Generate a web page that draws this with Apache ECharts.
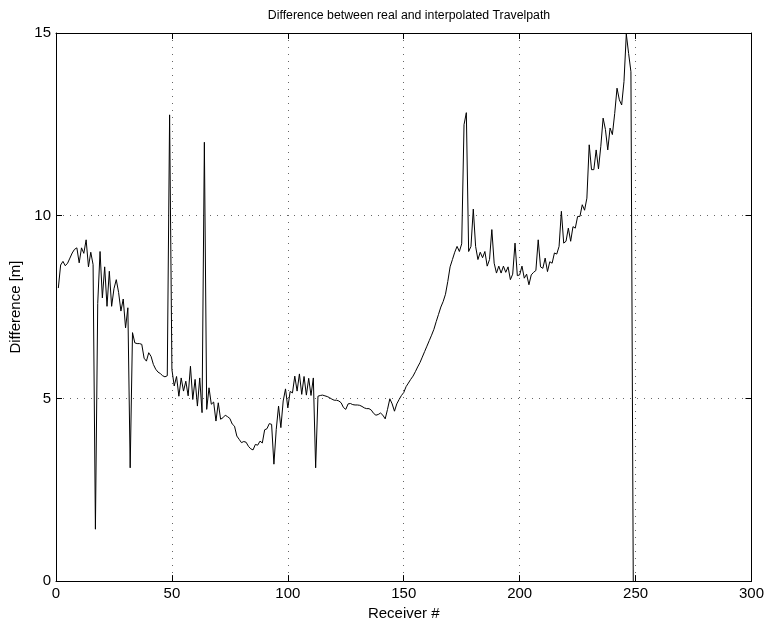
<!DOCTYPE html>
<html>
<head>
<meta charset="utf-8">
<script src="https://cdn.jsdelivr.net/npm/echarts@6/dist/echarts.min.js"></script>
<style>
  html, body { margin: 0; padding: 0; background: #fff; }
  #chart { width: 767px; height: 626px; }
</style>
</head>
<body>
<div id="chart"></div>
<script>
// Receiver numbers 1..249 and the travel-path difference for each receiver [m]
const receivers = [];
for (let i = 1; i <= 249; i++) receivers.push(i);

const difference = [
  // 1-10
  8.02, 8.65, 8.75, 8.63, 8.70, 8.84, 8.98, 9.08, 9.12, 8.71,
  // 11-20
  9.12, 8.97, 9.34, 8.60, 9.00, 8.66, 1.42, 7.60, 9.02, 7.75,
  // 21-30
  8.60, 7.52, 8.48, 7.52, 8.00, 8.25, 7.90, 7.39, 7.72, 6.93,
  // 31-40
  7.48, 3.10, 6.80, 6.52, 6.50, 6.50, 6.48, 6.10, 6.02, 6.25,
  // 41-50
  6.15, 5.93, 5.80, 5.72, 5.68, 5.62, 5.59, 5.62, 12.76, 5.79,
  // 51-60
  5.34, 5.60, 5.06, 5.56, 5.20, 5.47, 5.07, 5.88, 4.97, 5.52,
  // 61-70
  4.79, 5.56, 4.61, 12.01, 4.70, 5.29, 4.84, 4.90, 4.38, 4.88,
  // 71-80
  4.43, 4.47, 4.54, 4.50, 4.45, 4.30, 4.24, 3.97, 3.88, 3.79,
  // 81-90
  3.82, 3.80, 3.69, 3.62, 3.59, 3.74, 3.72, 3.83, 3.78, 4.14,
  // 91-100
  4.17, 4.31, 4.29, 3.20, 4.15, 4.79, 4.20, 4.93, 5.26, 4.74,
  // 101-110
  5.19, 5.15, 5.61, 5.20, 5.67, 5.11, 5.60, 5.09, 5.55, 5.08,
  // 111-120
  5.56, 3.10, 5.06, 5.08, 5.09, 5.07, 5.05, 5.02, 4.98, 4.95,
  // 121-130
  4.95, 4.93, 4.88, 4.75, 4.70, 4.85, 4.86, 4.83, 4.82, 4.82,
  // 131-140
  4.81, 4.78, 4.74, 4.72, 4.72, 4.68, 4.59, 4.54, 4.56, 4.60,
  // 141-150
  4.54, 4.44, 4.70, 4.99, 4.85, 4.65, 4.85, 4.97, 5.08, 5.16,
  // 151-160
  5.32, 5.42, 5.52, 5.61, 5.73, 5.86, 5.98, 6.13, 6.28, 6.43,
  // 161-170
  6.58, 6.73, 6.89, 7.10, 7.30, 7.50, 7.65, 7.85, 8.20, 8.60,
  // 171-180
  8.80, 9.00, 9.16, 9.02, 9.23, 12.49, 12.82, 9.02, 9.16, 10.18,
  // 181-190
  9.16, 8.80, 9.00, 8.85, 9.02, 8.62, 8.80, 9.62, 8.70, 8.43,
  // 191-200
  8.62, 8.43, 8.62, 8.45, 8.60, 8.25, 8.40, 9.25, 8.36, 8.38,
  // 201-210
  8.62, 8.29, 8.40, 8.11, 8.38, 8.45, 8.50, 9.34, 8.60, 8.56,
  // 211-220
  8.84, 8.47, 8.74, 8.70, 8.98, 8.95, 9.16, 10.12, 9.25, 9.30,
  // 221-230
  9.66, 9.30, 9.70, 9.66, 9.98, 9.98, 10.30, 10.15, 10.48, 11.94,
  // 231-240
  11.26, 11.26, 11.80, 11.28, 11.90, 12.67, 12.36, 11.80, 12.40, 12.22,
  // 241-249
  12.80, 13.49, 13.17, 13.03, 13.67, 14.97, 14.44, 13.94, 0.00
];

const xTicks = [0, 50, 100, 150, 200, 250, 300];
const yTicks = [0, 5, 10, 15];

const titleText = 'Difference between real and interpolated Travelpath';
const xLabel = 'Receiver #';
const yLabel = 'Difference [m]';

const points = receivers.map((r, i) => [r, difference[i]]);

const FONT = 'Liberation Sans, Arial, Helvetica, sans-serif';
const gridLine = { show: true, lineStyle: { color: '#666', width: 1, type: [1, 6] } };
const tick = { show: true, inside: true, length: 6, lineStyle: { color: '#000', width: 1 } };
const frame = { show: true, onZero: false, lineStyle: { color: '#000', width: 1 } };

const chart = echarts.init(document.getElementById('chart'), null, { renderer: 'canvas' });

chart.setOption({
  animation: false,
  backgroundColor: '#fff',
  title: {
    text: titleText,
    left: 404, top: 5, textAlign: 'center',
    textStyle: { fontFamily: FONT, fontSize: 12.3, fontWeight: 'normal', color: '#000' }
  },
  grid: { left: 56, right: 15, top: 33, bottom: 44, containLabel: false },
  xAxis: [
    {
      type: 'value', min: xTicks[0], max: xTicks[xTicks.length - 1], interval: 50,
      position: 'bottom',
      name: xLabel, nameLocation: 'middle', nameGap: 23,
      nameTextStyle: { fontFamily: FONT, fontSize: 15, color: '#000' },
      axisLine: frame,
      axisTick: tick,
      axisLabel: { fontFamily: FONT, fontSize: 15, color: '#000', margin: 5 },
      splitLine: gridLine
    },
    {
      type: 'value', min: xTicks[0], max: xTicks[xTicks.length - 1], interval: 50,
      position: 'top',
      axisLine: frame,
      axisTick: tick,
      axisLabel: { show: false },
      splitLine: { show: false }
    }
  ],
  yAxis: [
    {
      type: 'value', min: yTicks[0], max: yTicks[yTicks.length - 1], interval: 5,
      position: 'left',
      name: yLabel, nameLocation: 'middle', nameGap: 28, nameRotate: 90,
      nameTextStyle: { fontFamily: FONT, fontSize: 15, color: '#000' },
      axisLine: frame,
      axisTick: tick,
      axisLabel: { fontFamily: FONT, fontSize: 15, color: '#000', margin: 5 },
      splitLine: gridLine
    },
    {
      type: 'value', min: yTicks[0], max: yTicks[yTicks.length - 1], interval: 5,
      position: 'right',
      axisLine: frame,
      axisTick: tick,
      axisLabel: { show: false },
      splitLine: { show: false }
    }
  ],
  series: [
    {
      type: 'line',
      data: points,
      xAxisIndex: 0, yAxisIndex: 0,
      showSymbol: false,
      symbol: 'none',
      lineStyle: { color: '#000', width: 1 },
      clip: true
    }
  ]
});
</script>
</body>
</html>
